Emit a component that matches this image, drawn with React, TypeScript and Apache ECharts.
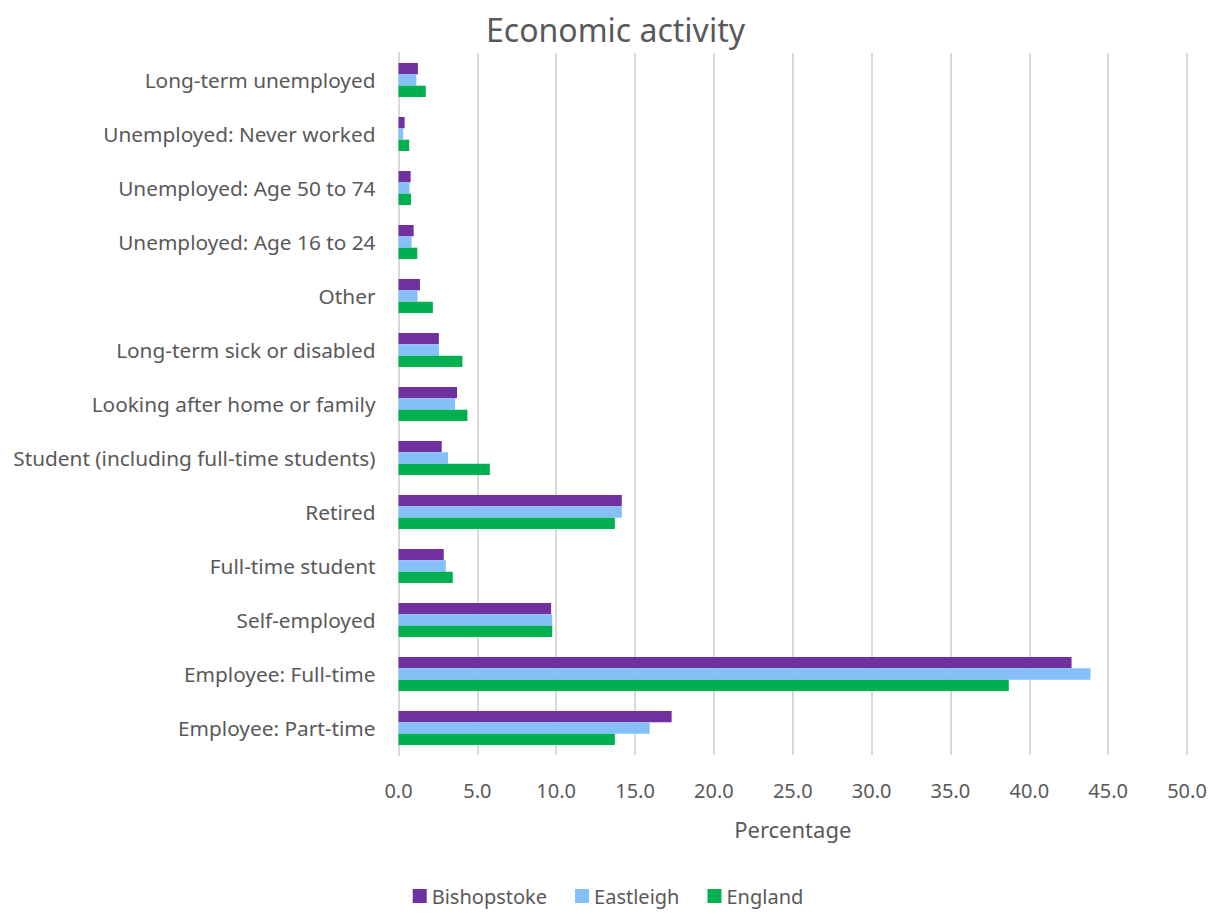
import React, { useEffect, useRef } from "react";
import * as echarts from "echarts";

const categories = [
  "Long-term unemployed",
  "Unemployed: Never worked",
  "Unemployed: Age 50 to 74",
  "Unemployed: Age 16 to 24",
  "Other",
  "Long-term sick or disabled",
  "Looking after home or family",
  "Student (including full-time students)",
  "Retired",
  "Full-time student",
  "Self-employed",
  "Employee: Full-time",
  "Employee: Part-time",
];

const bishopstoke = [1.23, 0.39, 0.77, 0.96, 1.36, 2.56, 3.71, 2.74, 14.16, 2.87, 9.68, 42.68, 17.32];
const eastleigh = [1.13, 0.3, 0.7, 0.83, 1.21, 2.57, 3.59, 3.14, 14.16, 3.0, 9.75, 43.88, 15.93];
const england = [1.73, 0.68, 0.79, 1.19, 2.18, 4.05, 4.37, 5.79, 13.72, 3.44, 9.75, 38.7, 13.72];

const xTicks = { min: 0, max: 50, interval: 5 };

const FONT = "Noto Sans";
const GREY = "#595959";

export default function App() {
  const ref = useRef<HTMLDivElement>(null);
  useEffect(() => {
    if (!ref.current) return;
    const chart = echarts.init(ref.current, undefined, { renderer: "svg" });
    const mk = (name: string, data: number[], color: string) => ({
      name,
      type: "bar",
      data,
      itemStyle: { color },
      barGap: "0%",
      barCategoryGap: "37%",
    });
    chart.setOption({
      animation: false,
      textStyle: { fontFamily: FONT },
      title: {
        text: "Economic activity",
        left: 473,
        top: 0,
        textStyle: { fontFamily: FONT, fontSize: 32, fontWeight: "normal", color: GREY },
      },
      grid: {
        left: 390.5,
        right: 21,
        top: 45,
        bottom: 156,
        containLabel: false,
        outerBoundsMode: "none",
      },
      legend: {
        bottom: 0,
        left: "center",
        itemWidth: 14,
        itemHeight: 14,
        itemGap: 28,
        icon: "rect",
        textStyle: { fontFamily: FONT, fontSize: 20, color: GREY },
        data: ["Bishopstoke", "Eastleigh", "England"],
      },
      xAxis: {
        type: "value",
        min: xTicks.min,
        max: xTicks.max,
        interval: xTicks.interval,
        name: "Percentage",
        nameLocation: "middle",
        nameGap: 63,
        nameTextStyle: { fontFamily: FONT, fontSize: 22, color: GREY },
        axisLabel: {
          formatter: (v: number) => v.toFixed(1),
          fontFamily: FONT,
          fontSize: 20,
          color: GREY,
          margin: 25,
        },
        axisLine: { show: false },
        axisTick: { show: false },
        splitLine: { show: true, lineStyle: { color: "#d9d9d9", width: 2 } },
      },
      yAxis: {
        type: "category",
        inverse: true,
        data: categories,
        axisLabel: { fontFamily: FONT, fontSize: 20.8, color: GREY, margin: 23 },
        axisLine: { show: true, lineStyle: { color: "#d9d9d9", width: 2 } },
        axisTick: { show: false },
      },
      series: [
        mk("Bishopstoke", bishopstoke, "#7030a0"),
        mk("Eastleigh", eastleigh, "#85c0f9"),
        mk("England", england, "#00b050"),
      ],
    });
    return () => chart.dispose();
  }, []);
  return <div ref={ref} style={{ width: 1200, height: 903 }} />;
}
